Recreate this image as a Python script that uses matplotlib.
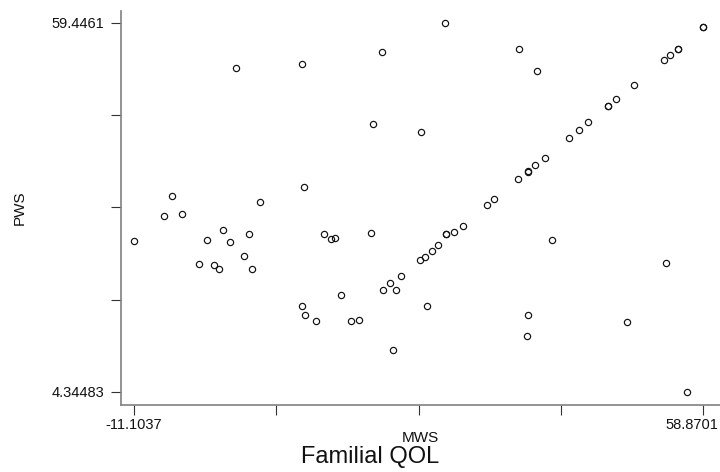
import matplotlib
matplotlib.use("Agg")
import matplotlib.pyplot as plt
import matplotlib.transforms as mtransforms

plt.rcParams['font.family'] = ['Liberation Sans', 'DejaVu Sans']

###############################################################################
# Data (MWS on x, PWS on y)
mws = [27.11, 19.37, 1.43, 9.54, 36.20, 38.45, 58.87, 58.75, 55.77, 55.77,
       54.79, 54.05, 50.29, 48.16, 47.17, 47.17, 44.72, 43.54, 42.31, 39.40,
       38.20, 37.31, 37.25, 36.12, 18.26, 24.16, 9.75, -6.47, 4.38, -7.45,
       -5.24, -11.1037, -2.17, -0.20, 0.73, 3.03, 2.41, -3.12, -1.31, -0.70,
       3.36, 9.58, 9.91, 11.30, 12.24, 13.14, 13.56, 18.05, 14.37, 15.56,
       16.51, 20.76, 19.53, 20.39, 21.05, 21.67, 24.86, 24.04, 24.61, 25.47,
       26.29, 27.27, 27.27, 28.21, 29.28, 32.31, 33.09, 40.29, 54.26, 37.34,
       37.15, 49.51, 56.88]
pws = [59.4461, 55.11, 52.77, 53.36, 55.61, 52.32, 58.82, 58.80, 55.61, 55.61,
       54.66, 53.96, 50.22, 48.09, 47.09, 47.09, 44.61, 43.46, 42.21, 39.32,
       38.18, 37.22, 37.30, 36.09, 44.31, 43.11, 34.98, 33.64, 32.65, 30.65,
       30.90, 26.91, 26.97, 28.47, 26.67, 27.87, 24.62, 23.43, 23.32, 22.68,
       22.73, 17.15, 15.81, 14.91, 27.96, 27.12, 27.31, 28.02, 18.80, 14.87,
       15.02, 10.53, 19.50, 20.54, 19.59, 21.59, 17.15, 23.98, 24.52, 25.37,
       26.22, 27.87, 27.87, 28.17, 29.15, 32.20, 33.10, 27.06, 23.53, 15.76,
       12.67, 14.72, 4.34483]

x_min, x_max = -11.1037, 58.8701
y_min, y_max = 4.34483, 59.4461
x_labels = ['-11.1037', '', '', '', '58.8701']
y_labels = ['4.34483', '', '', '', '59.4461']

###############################################################################
fig = plt.figure(figsize=(7.2, 4.72), dpi=100)
ax = fig.add_axes([121 / 720, 67 / 472, 599 / 720, 394.3 / 472])

ax.plot(mws, pws, linestyle='none', marker='o', ms=4.5,
        mfc='none', mec='#111111', mew=0.85)

ax.set_xlim(-12.70, 60.90)
ax.set_ylim(2.36, 61.28)

x_step = (x_max - x_min) / 4
y_step = (y_max - y_min) / 4
ax.set_xticks([x_min + i * x_step for i in range(5)])
ax.set_xticklabels(x_labels)
ax.set_yticks([y_min + i * y_step for i in range(5)])
ax.set_yticklabels(y_labels)

for side in ('top', 'right'):
    ax.spines[side].set_visible(False)
for side in ('left', 'bottom'):
    ax.spines[side].set_color('#808080')
    ax.spines[side].set_linewidth(1.2)

ax.tick_params(axis='both', direction='out', length=7, width=0.8,
               color='#333333', labelsize=10.5, labelcolor='#111111')
ax.tick_params(axis='x', pad=2.5)
ax.tick_params(axis='y', pad=5)

# last x label is pulled left so it stays inside the picture, as in the export
last = ax.get_xticklabels()[-1]
last.set_transform(last.get_transform() +
                   mtransforms.ScaledTranslation(-12 / 100, 0, fig.dpi_scale_trans))

###############################################################################
# Axis titles placed like the original export
fig.text(420.5 / 720, 1 - 438.5 / 472, 'MWS', ha='center', va='center',
         fontsize=11, color='#111111')
fig.text(370 / 720, 1 - 457.5 / 472, 'Familial QOL', ha='center',
         va='center', fontsize=17, color='#111111')
fig.text(20 / 720, 1 - 208 / 472, 'PWS', ha='center', va='center',
         rotation=90, fontsize=11, color='#111111')

fig.savefig('out.png', dpi=100)
